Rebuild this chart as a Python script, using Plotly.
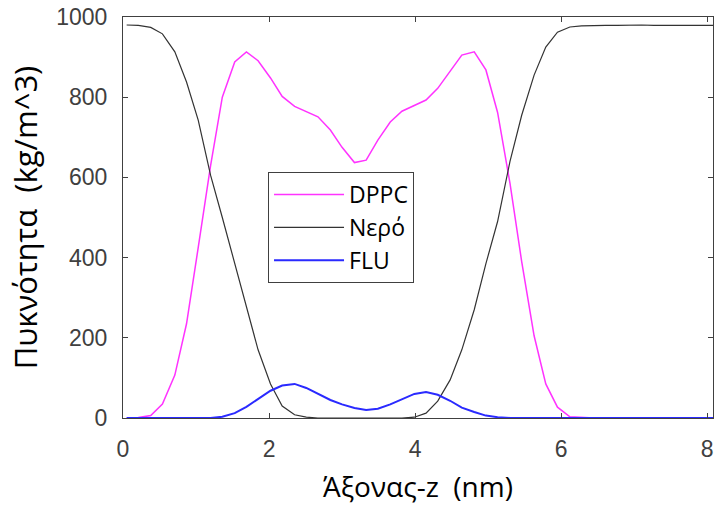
import plotly.graph_objects as go

# z-axis positions (nm)
z_nm = [0.05, 0.21, 0.38, 0.54, 0.71, 0.87, 1.03, 1.20, 1.36, 1.53,
        1.69, 1.85, 2.02, 2.18, 2.35, 2.51, 2.67, 2.84, 3.00, 3.17,
        3.33, 3.49, 3.66, 3.82, 3.99, 4.15, 4.31, 4.48, 4.64, 4.81,
        4.97, 5.13, 5.30, 5.46, 5.63, 5.79, 5.95, 6.12, 6.28, 6.45,
        6.61, 6.77, 6.94, 7.10, 7.27, 7.43, 7.59, 7.76, 7.92, 8.08]

# densities (kg/m^3)
dppc = [0, 1, 6, 35, 107, 235, 425, 630, 800, 888,
        913, 891, 848, 802, 777, 765, 751, 718, 675, 637,
        643, 693, 738, 765, 780, 793, 822, 865, 905, 913,
        868, 762, 585, 390, 205, 85, 27, 3, 1, 0,
        0, 0, 0, 0, 0, 0, 0, 0, 0, 0]

water = [980, 979, 974, 958, 913, 838, 743, 605, 500, 385,
         272, 170, 85, 30, 8, 2, 0, 0, 0, 0,
         0, 0, 0, 0, 2, 12, 42, 95, 170, 270,
         385, 490, 640, 755, 855, 925, 962, 975, 978, 979,
         979, 979, 980, 980, 979, 979, 979, 979, 979, 979]

flu = [0, 0, 0, 0, 0, 0, 0, 0, 3, 12,
       28, 48, 68, 81, 85, 75, 60, 45, 34, 25,
       20, 23, 34, 47, 60, 65, 58, 43, 26, 15,
       6, 2, 0, 0, 0, 0, 0, 0, 0, 0,
       0, 0, 0, 0, 0, 0, 0, 0, 0, 0]

series_names = ["DPPC", "Νερό", "FLU"]
x_ticks = [0, 2, 4, 6, 8]
y_ticks = [0, 200, 400, 600, 800, 1000]

fig = go.Figure()
fig.add_trace(go.Scatter(x=z_nm, y=dppc, mode="lines", name=series_names[0],
                         line=dict(color="#ff33ff", width=1.5)))
fig.add_trace(go.Scatter(x=z_nm, y=water, mode="lines", name=series_names[1],
                         line=dict(color="#333333", width=1.2)))
fig.add_trace(go.Scatter(x=z_nm, y=flu, mode="lines", name=series_names[2],
                         line=dict(color="#2a2aff", width=2)))

axis_common = dict(
    showline=True, linecolor="#404040", linewidth=1, mirror="ticks",
    ticks="inside", ticklen=5, tickcolor="#404040", tickwidth=1,
    showgrid=False, zeroline=False,
    tickfont=dict(family="Liberation Sans, Arial, sans-serif", size=23, color="#404040"),
)

fig.update_layout(
    width=715, height=515,
    margin=dict(l=123, r=2, t=17, b=97),
    paper_bgcolor="white", plot_bgcolor="white",
    font=dict(family="Open Sans, Noto Sans, sans-serif", color="black"),
    xaxis=dict(range=[0, 8.08], tickvals=x_ticks, ticklabelstandoff=10,
               title=dict(text="Άξονας-z  (nm)", font=dict(size=28, family="Open Sans, sans-serif"),
                          standoff=16),
               **axis_common),
    yaxis=dict(range=[0, 1000], tickvals=y_ticks, ticklabelstandoff=10,
               title=dict(text="Πυκνότητα  (kg/m^3)", font=dict(size=31, family="Open Sans, sans-serif"),
                          standoff=9),
               **axis_common),
    showlegend=True,
    legend=dict(x=0.2458, y=0.6135, xanchor="left", yanchor="top",
                bgcolor="white", bordercolor="#404040", borderwidth=1,
                font=dict(size=23, family="Open Sans, sans-serif", color="black"),
                itemwidth=70, tracegroupgap=0),
)

fig.write_html("out.html")
